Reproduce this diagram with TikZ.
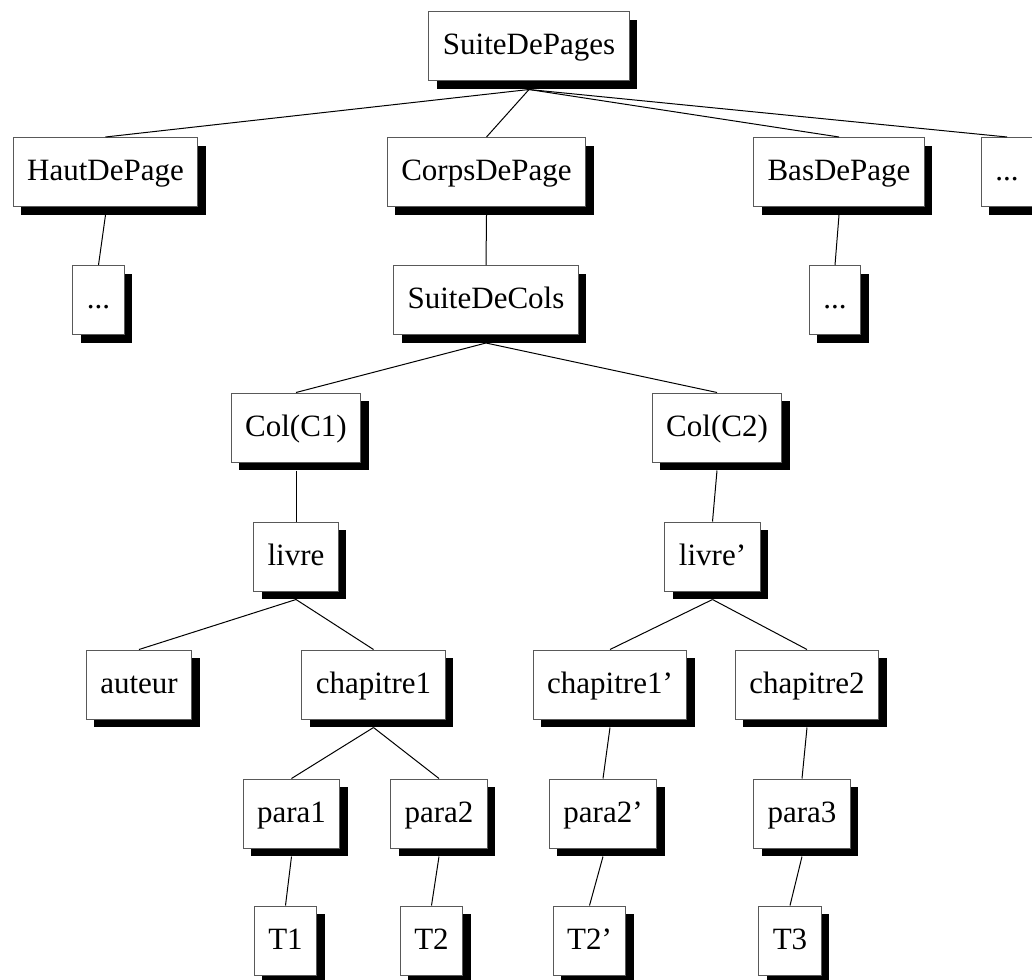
\documentclass[tikz,border=0pt]{standalone}
\usepackage{fontspec}
\setmainfont{Liberation Serif}
\usetikzlibrary{shadows}
\tikzset{
  boite/.style={draw=black!65, line width=0.5pt, fill=white,
    inner xsep=7pt, minimum height=34.5pt, text height=11.5pt, text depth=3pt,
    font=\fontsize{15.5}{18}\selectfont,
    drop shadow={shadow xshift=4pt, shadow yshift=-4pt, fill=black, opacity=1}},
  lien/.style={line width=0.5pt, black}
}
\begin{document}
\begin{tikzpicture}[x=0.5pt,y=-0.5pt]
			\useasboundingbox (0,0) rectangle (1032,979);
			\node[boite] (pages) at (529,46.5) {SuiteDePages};
			\node[boite] (haut) at (105.5,172) {HautDePage};
			\node[boite] (corps) at (486.5,172) {CorpsDePage};
			\node[boite] (bas) at (839,172) {BasDePage};
			\node[boite] (autres) at (1007,172) {...};
			\node[boite] (hautdots) at (98.5,300) {...};
			\node[boite] (cols) at (486,300) {SuiteDeCols};
			\node[boite] (basdots) at (835,300) {...};
			\node[boite] (colA) at (296,427.5) {Col(C1)};
			\node[boite] (colB) at (717,427.5) {Col(C2)};
			\node[boite] (livre) at (296,556.5) {livre};
			\node[boite] (livreB) at (712.5,556.5) {livre'};
			\node[boite] (auteur) at (139,684.5) {auteur};
			\node[boite] (chapA) at (373.5,684.5) {chapitre1};
			\node[boite] (chapAB) at (610,684.5) {chapitre1'};
			\node[boite] (chapB) at (807,684.5) {chapitre2};
			\node[boite] (paraA) at (291.5,813.5) {para1};
			\node[boite] (paraB) at (439,813.5) {para2};
			\node[boite] (paraBB) at (603,813.5) {para2'};
			\node[boite] (paraC) at (802,813.5) {para3};
			\node[boite] (tA) at (285.5,940.5) {T1};
			\node[boite] (tB) at (431.5,940.5) {T2};
			\node[boite] (tBB) at (589.5,940.5) {T2'};
			\node[boite] (tC) at (790,940.5) {T3};
			\foreach \p/\f in {pages/haut,pages/corps,pages/bas,pages/autres,haut/hautdots,corps/cols,bas/basdots,
			  cols/colA,cols/colB,colA/livre,colB/livreB,livre/auteur,livre/chapA,livreB/chapAB,livreB/chapB,
			  chapA/paraA,chapA/paraB,chapAB/paraBB,chapB/paraC,paraA/tA,paraB/tB,paraBB/tBB,paraC/tC}
			  \draw[lien] (\p.south) ++(0,8) -- (\f.north);
\end{tikzpicture}
\end{document}
